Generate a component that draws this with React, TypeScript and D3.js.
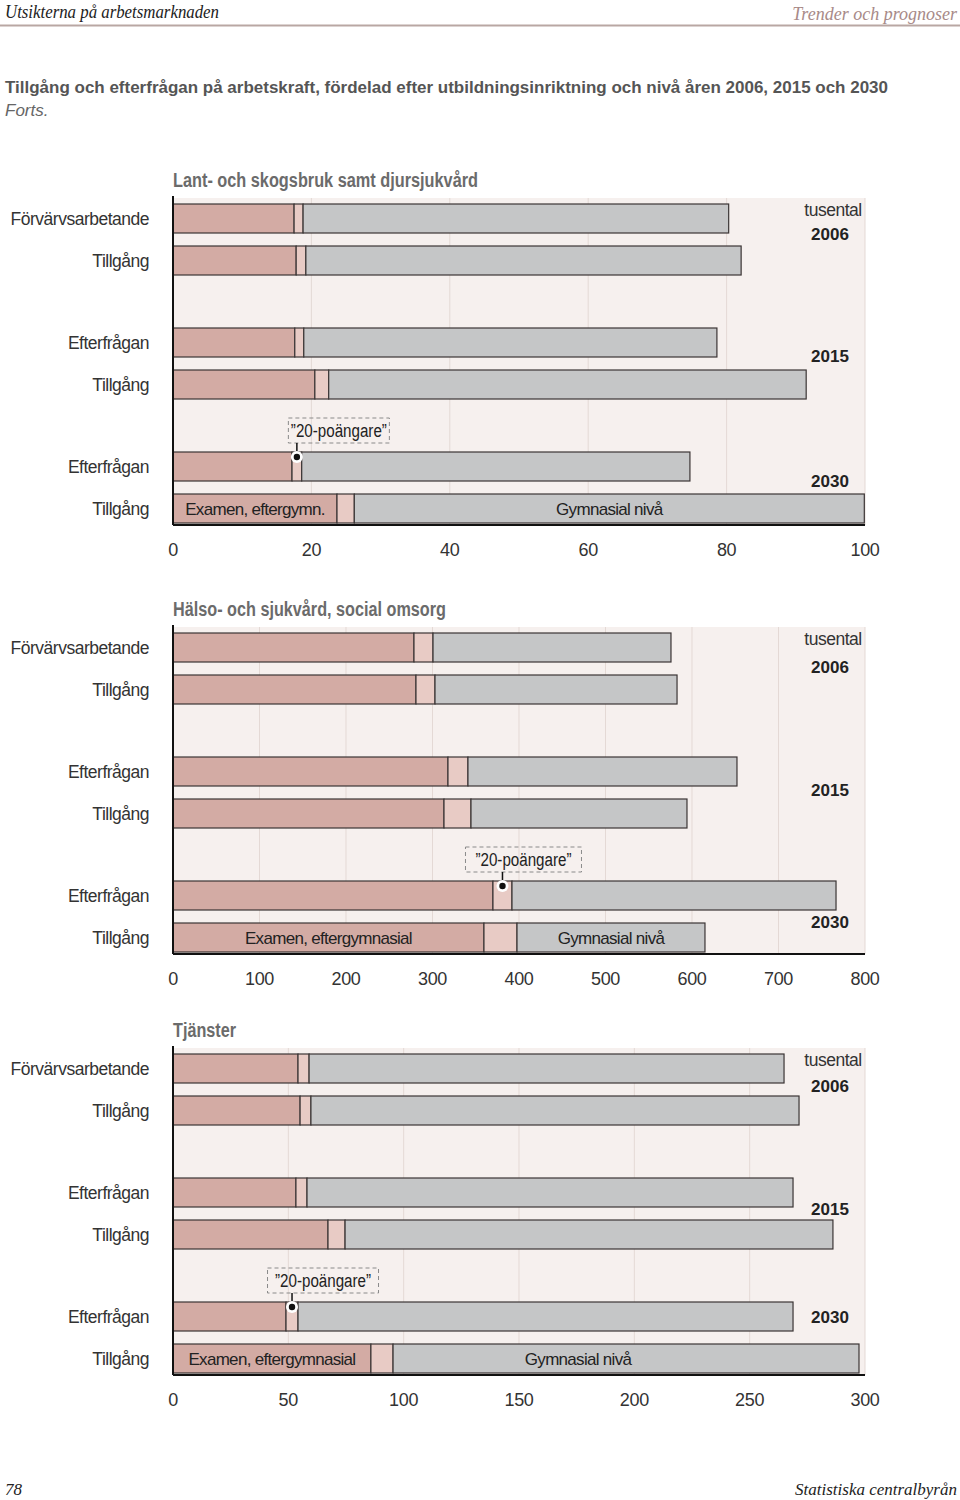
import React from "react";
import * as d3 from "d3";

// ---------- data ----------
const years = ["2006", "2015", "2030"];
const rowLabels = ["Förvärvsarbetande", "Tillgång", "Efterfrågan", "Tillgång", "Efterfrågan", "Tillgång"];

const lantExamen = [17.5, 17.8, 17.6, 20.5, 17.2, 23.7];
const lantPoang = [1.3, 1.4, 1.3, 2.0, 1.4, 2.5];
const lantGymn = [61.5, 62.9, 59.7, 69.0, 56.1, 73.7];
const lantTicks = [0, 20, 40, 60, 80, 100];

const halsoExamen = [278.6, 280.9, 317.9, 313.3, 369.9, 359.5];
const halsoPoang = [22.0, 22.0, 23.1, 31.2, 22.0, 38.2];
const halsoGymn = [275.1, 279.8, 311.0, 249.7, 374.6, 217.3];
const halsoTicks = [0, 100, 200, 300, 400, 500, 600, 700, 800];

const tjExamen = [54.2, 55.1, 53.3, 67.2, 49.0, 85.8];
const tjPoang = [4.8, 4.7, 4.8, 7.4, 5.2, 9.6];
const tjGymn = [205.9, 211.6, 210.7, 211.5, 214.6, 202.0];
const tjTicks = [0, 50, 100, 150, 200, 250, 300];

const panelTitles = [
  "Lant- och skogsbruk samt djursjukvård",
  "Hälso- och sjukvård, social omsorg",
  "Tjänster",
];
const examenLabels = ["Examen, eftergymn.", "Examen, eftergymnasial", "Examen, eftergymnasial"];
const gymnLabel = "Gymnasial nivå";
const calloutText = "\u201D20-poängare\u201D";

const panels = [
  { title: panelTitles[0], examen: lantExamen, poang: lantPoang, gymn: lantGymn, ticks: lantTicks, exLabel: examenLabels[0] },
  { title: panelTitles[1], examen: halsoExamen, poang: halsoPoang, gymn: halsoGymn, ticks: halsoTicks, exLabel: examenLabels[1] },
  { title: panelTitles[2], examen: tjExamen, poang: tjPoang, gymn: tjGymn, ticks: tjTicks, exLabel: examenLabels[2] },
];

// ---------- layout ----------
const layout = [
  { top: 198, titleW: 305, calloutDx: 42, calloutW: 101, gymDx: 0, yearY: [36, 158, 283] },
  { top: 627, titleW: 273, calloutDx: 21, calloutW: 116, gymDx: 0, yearY: [40, 163, 295] },
  { top: 1048, titleW: 63, calloutDx: 31, calloutW: 111, gymDx: -48, yearY: [38, 161, 269] },
];

const X0 = 173;
const X1 = 865;
const PH = 327;
const BAR_H = 29;

const SANS = "'Liberation Sans', Arial, Helvetica, sans-serif";
const SERIF = "'Liberation Serif', 'DejaVu Serif', serif";
const COND = "'Liberation Sans Narrow', 'Arial Narrow', 'Liberation Sans', sans-serif";

const C_EX = "#d3aba4";
const C_PO = "#e8cbc5";
const C_GY = "#c5c6c7";
const C_STROKE = "#3b3535";
const C_BG = "#f6f0ee";
const C_GRID = "#e4d9d5";

function Panel({ p, l }: { p: any; l: any }) {
  const T = l.top;
  const max = p.ticks[p.ticks.length - 1];
  const x = d3.scaleLinear().domain([0, max]).range([X0, X1]);
  const yGroup = d3.scaleBand<string>().domain(years).range([T + 6, T + 6 + 372]);
  const yInner = d3.scaleBand<number>().domain([0, 1]).range([0, 84]);
  const rowY = (i: number) => (yGroup(years[Math.floor(i / 2)]) as number) + (yInner(i % 2) as number);

  const rows = rowLabels.map((lab, i) => {
    const e = p.examen[i];
    const po = p.poang[i];
    const g = p.gymn[i];
    return { lab, i, y: rowY(i), a: x(0), b: x(e), c: x(e + po), d: x(e + po + g) };
  });

  const ann = rows[4];
  const dotX = (ann.b + ann.c) / 2;
  const dotY = ann.y + 5;
  const boxCx = dotX + l.calloutDx;
  const boxTop = T + 220;
  const boxH = 25;

  const last = rows[5];

  return (
    <g>
      <text x={X0} y={T - 11} fontFamily={COND} fontWeight={700} fontSize={20} fill="#6b6b6b"
        textLength={l.titleW} lengthAdjust="spacingAndGlyphs">{p.title}</text>
      <rect x={X0} y={T} width={X1 - X0} height={PH} fill={C_BG} />
      {p.ticks.slice(1).map((t: number) => (
        <line key={t} x1={x(t)} x2={x(t)} y1={T} y2={T + PH} stroke={C_GRID} strokeWidth={1} />
      ))}
      {rows.map((r) => (
        <g key={r.i}>
          <rect x={r.a} y={r.y} width={r.b - r.a} height={BAR_H} fill={C_EX} stroke={C_STROKE} strokeWidth={1.2} />
          <rect x={r.b} y={r.y} width={r.c - r.b} height={BAR_H} fill={C_PO} stroke={C_STROKE} strokeWidth={1.2} />
          <rect x={r.c} y={r.y} width={r.d - r.c} height={BAR_H} fill={C_GY} stroke={C_STROKE} strokeWidth={1.2} />
          <text x={149} y={r.y + BAR_H / 2 + 6} textAnchor="end" fontFamily={SANS} fontSize={17.5} letterSpacing={-0.5} fill="#333">{r.lab}</text>
        </g>
      ))}
      <text x={(last.a + last.b) / 2} y={last.y + BAR_H / 2 + 6.5} textAnchor="middle" fontFamily={SANS} fontSize={17} letterSpacing={-0.7} fill="#222">{p.exLabel}</text>
      <text x={(last.c + last.d) / 2 + l.gymDx} y={last.y + BAR_H / 2 + 6.5} textAnchor="middle" fontFamily={SANS} fontSize={17} letterSpacing={-0.7} fill="#222">{gymnLabel}</text>
      {/* callout */}
      <rect x={boxCx - l.calloutW / 2} y={boxTop} width={l.calloutW} height={boxH} fill="none" stroke="#8a8a8a" strokeDasharray="4,3" strokeWidth={1} />
      <text x={boxCx} y={boxTop + 19} textAnchor="middle" fontFamily={SANS} fontSize={18} fill="#222" textLength={96} lengthAdjust="spacingAndGlyphs">{calloutText}</text>
      <line x1={dotX} x2={dotX} y1={boxTop + boxH} y2={dotY} stroke="#111" strokeWidth={1.5} />
      <circle cx={dotX} cy={dotY} r={6} fill="#fff" />
      <circle cx={dotX} cy={dotY} r={3.2} fill="#111" />
      {/* right labels */}
      <text x={833} y={T + 18} textAnchor="middle" fontFamily={SANS} fontSize={17.5} letterSpacing={-0.5} fill="#333">tusental</text>
      {years.map((yr, g) => (
        <text key={yr} x={830} y={T + l.yearY[g] + 6} textAnchor="middle" fontFamily={SANS} fontWeight={700} fontSize={17} fill="#222">{yr}</text>
      ))}
      {/* axes */}
      <line x1={X0} x2={X0} y1={T - 2} y2={T + PH} stroke="#111" strokeWidth={2} />
      <line x1={X0} x2={X1} y1={T + PH} y2={T + PH} stroke="#111" strokeWidth={2} />
      {p.ticks.map((t: number) => (
        <text key={t} x={x(t)} y={T + PH + 31} textAnchor="middle" fontFamily={SANS} fontSize={18} letterSpacing={-0.3} fill="#333">{t}</text>
      ))}
    </g>
  );
}

export default function App() {
  return (
    <svg width={960} height={1500} style={{ position: "absolute", left: 0, top: 0, background: "#fff" }}>
      <text x={5} y={18} fontFamily={SERIF} fontStyle="italic" fontSize={18} fill="#222" textLength={214} lengthAdjust="spacingAndGlyphs">Utsikterna på arbetsmarknaden</text>
      <text x={957} y={20} textAnchor="end" fontFamily={SERIF} fontStyle="italic" fontSize={18} fill="#a88a88">Trender och prognoser</text>
      <line x1={0} x2={960} y1={25.5} y2={25.5} stroke="#b9a7a3" strokeWidth={2} />
      <text x={5} y={93} fontFamily={SANS} fontWeight={700} fontSize={17} fill="#555" textLength={883} lengthAdjust="spacingAndGlyphs">Tillgång och efterfrågan på arbetskraft, fördelad efter utbildningsinriktning och nivå åren 2006, 2015 och 2030</text>
      <text x={5} y={116} fontFamily={SANS} fontStyle="italic" fontSize={17} fill="#666">Forts.</text>
      {panels.map((p, i) => (
        <Panel key={i} p={p} l={layout[i]} />
      ))}
      <text x={5} y={1495} fontFamily={SERIF} fontStyle="italic" fontSize={17} fill="#222">78</text>
      <text x={957} y={1495} textAnchor="end" fontFamily={SERIF} fontStyle="italic" fontSize={17} fill="#222">Statistiska centralbyrån</text>
    </svg>
  );
}
